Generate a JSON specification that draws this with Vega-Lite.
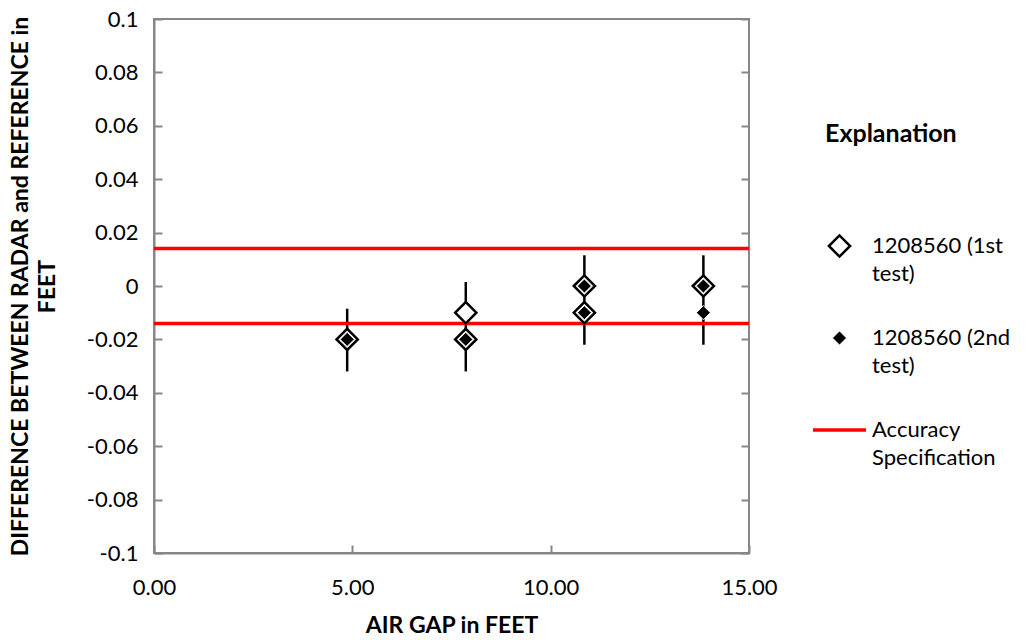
{
  "$schema": "https://vega.github.io/schema/vega-lite/v6.json",
  "autosize": "none",
  "width": 595,
  "height": 534,
  "padding": {"left": 154, "top": 19, "right": 277, "bottom": 87},
  "background": "white",
  "config": {
    "font": "Lato",
    "view": {"stroke": "#878787", "strokeWidth": 2},
    "axis": {
      "labelFont": "Lato", "labelFontSize": 22, "labelColor": "#000", "labelFlush": false,
      "titleFont": "Lato", "titleFontSize": 23, "titleFontWeight": "bold", "titleColor": "#000",
      "domainColor": "#878787", "domainWidth": 2, "tickColor": "#878787", "tickWidth": 2,
      "grid": false
    }
  },
  "datasets": {
    "pts": [
      {"gap": 4.87, "diff": -0.02, "series": "1208560 (1st test)"},
      {"gap": 7.86, "diff": -0.01, "series": "1208560 (1st test)"},
      {"gap": 7.86, "diff": -0.02, "series": "1208560 (1st test)"},
      {"gap": 10.85, "diff": 0, "series": "1208560 (1st test)"},
      {"gap": 10.85, "diff": -0.01, "series": "1208560 (1st test)"},
      {"gap": 13.85, "diff": 0, "series": "1208560 (1st test)"},
      {"gap": 4.87, "diff": -0.02, "series": "1208560 (2nd test)"},
      {"gap": 7.86, "diff": -0.02, "series": "1208560 (2nd test)"},
      {"gap": 10.85, "diff": 0, "series": "1208560 (2nd test)"},
      {"gap": 10.85, "diff": -0.01, "series": "1208560 (2nd test)"},
      {"gap": 13.85, "diff": 0, "series": "1208560 (2nd test)"},
      {"gap": 13.85, "diff": -0.01, "series": "1208560 (2nd test)"}
    ],
    "err": [
      {"gap": 4.87, "lo": -0.032, "hi": -0.0085},
      {"gap": 7.86, "lo": -0.032, "hi": 0.0015},
      {"gap": 10.85, "lo": -0.022, "hi": 0.0115},
      {"gap": 13.85, "lo": -0.022, "hi": 0.0115}
    ],
    "spec": [
      {"diff": 0.014, "series": "Accuracy Specification"},
      {"diff": -0.014, "series": "Accuracy Specification"}
    ]
  },
  "layer": [
    {
      "data": {"name": "err"},
      "mark": {"type": "rule", "color": "#000", "strokeWidth": 2.5},
      "encoding": {
        "x": {"field": "gap", "type": "quantitative", "scale": {"domain": [0, 15], "nice": false, "zero": false},
          "axis": {"values": [0, 5, 10, 15], "format": ".2f", "tickSize": -8, "labelPadding": 32, "title": "AIR GAP in FEET", "titlePadding": 16}},
        "y": {"field": "lo", "type": "quantitative", "scale": {"domain": [-0.1, 0.1], "nice": false, "zero": false},
          "axis": {"values": [-0.1, -0.08, -0.06, -0.04, -0.02, 0, 0.02, 0.04, 0.06, 0.08, 0.1],
            "labelExpr": "replace(format(datum.value, '.2~f'), '\u2212', '-')",
            "tickSize": -8, "labelPadding": 24,
            "title": ["DIFFERENCE BETWEEN RADAR and REFERENCE in", "FEET"], "titlePadding": 27, "titleLineHeight": 27}},
        "y2": {"field": "hi"}
      }
    },
    {
      "data": {"name": "spec"},
      "mark": {"type": "rule", "color": "#ff0000", "strokeWidth": 3.5},
      "encoding": {
        "y": {"field": "diff", "type": "quantitative", "axis": null}
      }
    },
    {
      "data": {"name": "pts"},
      "mark": {"type": "point", "filled": false, "opacity": 1},
      "encoding": {
        "x": {"field": "gap", "type": "quantitative"},
        "y": {"field": "diff", "type": "quantitative", "axis": null},
        "shape": {"field": "series", "type": "nominal",
          "scale": {"domain": ["1208560 (1st test)", "1208560 (2nd test)", "Accuracy Specification"], "range": ["diamond", "diamond", "stroke"]},
          "legend": {
            "orient": "none", "legendX": 657, "legendY": 103,
            "title": "Explanation", "titleFont": "Lato", "titleFontSize": 25, "titleFontWeight": "bold", "titleColor": "#000",
            "titlePadding": 85,
            "labelFont": "Lato", "labelFontSize": 22, "labelColor": "#000", "labelLimit": 300, "labelOffset": 4,
            "rowPadding": 39, "padding": 0,
            "labelExpr": "datum.label == 'Accuracy Specification' ? ['Accuracy', 'Specification'] : [slice(datum.label, 0, 12), slice(datum.label, 13)]",
            "encoding": {
              "labels": {"lineHeight": {"value": 28}, "y": {"value": 14}},
              "symbols": {"y": {"value": 14}},
              "title": {"dx": {"value": 14}}
            }
          }},
        "fill": {"field": "series", "type": "nominal",
          "scale": {"domain": ["1208560 (1st test)", "1208560 (2nd test)", "Accuracy Specification"], "range": ["#fff", "#000", "#ff0000"]}},
        "stroke": {"field": "series", "type": "nominal",
          "scale": {"domain": ["1208560 (1st test)", "1208560 (2nd test)", "Accuracy Specification"], "range": ["#000", "#fff", "#ff0000"]}},
        "strokeWidth": {"field": "series", "type": "ordinal",
          "scale": {"type": "ordinal", "domain": ["1208560 (1st test)", "1208560 (2nd test)", "Accuracy Specification"], "range": [2.5, 1, 3.5]}},
        "size": {"field": "series", "type": "ordinal",
          "scale": {"type": "ordinal", "domain": ["1208560 (1st test)", "1208560 (2nd test)", "Accuracy Specification"], "range": [450, 200, 2809]}}
      }
    },
    {
      "data": {"name": "pts"},
      "mark": {"type": "rule", "opacity": 0},
      "encoding": {
        "y": {"field": "diff", "type": "quantitative",
          "axis": {"orient": "right", "values": [-0.1, -0.08, -0.06, -0.04, -0.02, 0, 0.02, 0.04, 0.06, 0.08, 0.1], "labels": false, "domain": false, "tickSize": -8, "title": null}}
      }
    }
  ],
  "resolve": {"axis": {"y": "independent"}}
}
